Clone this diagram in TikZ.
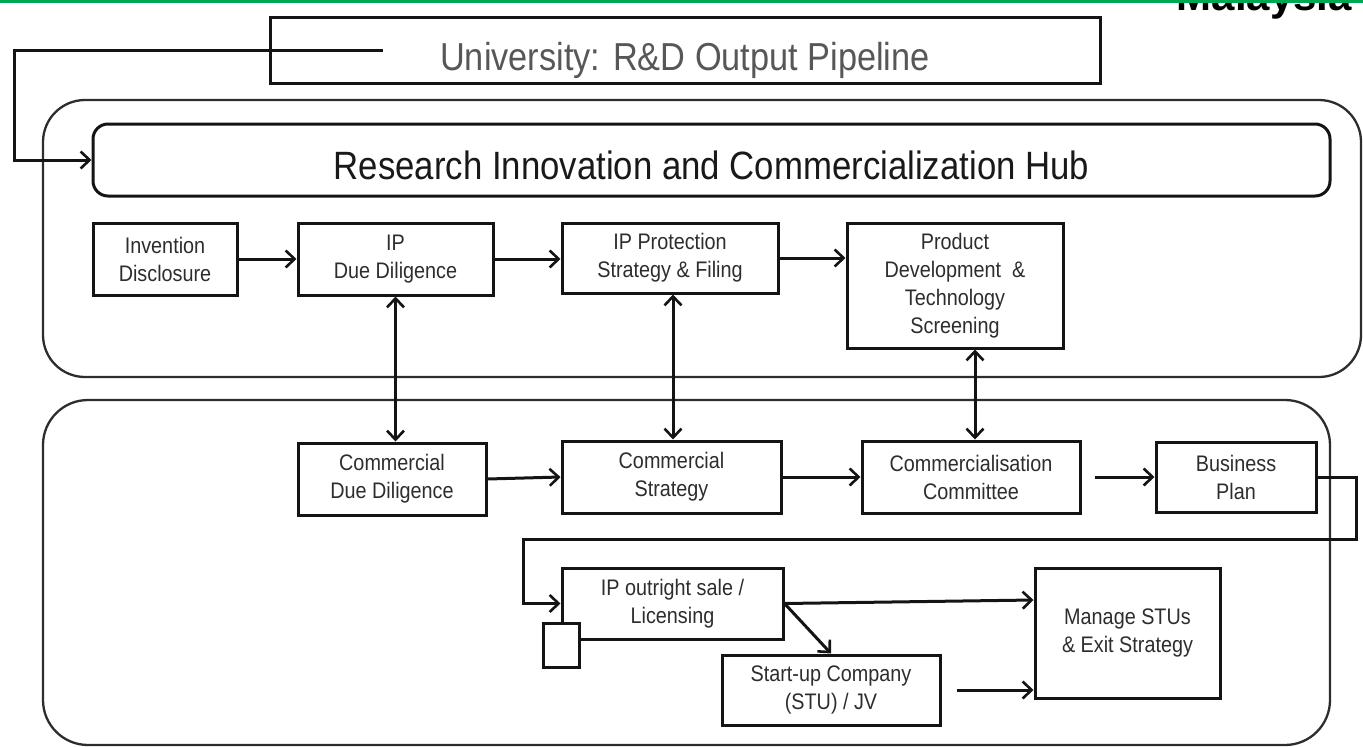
\documentclass[tikz,border=0pt]{standalone}
\usepackage{fontspec}
\setmainfont{Liberation Sans}
\newfontfamily\narrowf{Liberation Sans}[FakeStretch=0.88]
\usetikzlibrary{arrows.meta}
\definecolor{grn}{RGB}{0,166,81}
\definecolor{txt}{RGB}{45,45,45}
\definecolor{edge}{RGB}{20,20,20}
\definecolor{outer}{RGB}{45,45,45}
\tikzset{
  boxst/.style={draw=edge, line width=3pt, rectangle, inner sep=0pt, align=center,
    text=txt, font=\narrowf\fontsize{22.5}{28}\selectfont},
  outerst/.style={draw=outer, line width=2.3pt},
  conn/.style={draw=edge, line width=3pt},
  arr/.style={conn, -{Straight Barb[length=9pt,width=17pt,line width=2.6pt]}},
  darr/.style={conn, {Straight Barb[length=9pt,width=17pt,line width=2.6pt]}-{Straight Barb[length=9pt,width=17pt,line width=2.6pt]}},
}
\begin{document}
\begin{tikzpicture}[x=1pt,y=-1pt]
\useasboundingbox (0,0) rectangle (1363,747);
\clip (0,0) rectangle (1363,747);
% header
\node[anchor=base east, inner sep=0pt, font=\bfseries\fontsize{42}{46}\selectfont] (mal) at (1352,10) {Malaysia};
\fill[grn] (0,0) rectangle (1363,2.6);
% outer rounded panels
\draw[outerst, rounded corners=42pt] (43,100) rectangle (1361,377);
\draw[outerst, rounded corners=45pt] (43,400) rectangle (1330,745);
% title box
\node[boxst, minimum width=830pt, minimum height=66pt, text height=40pt, text depth=0pt, text=black!66, font=\narrowf\fontsize{39}{44}\selectfont] (title) at (685,50) {University: R\&D Output Pipeline};
% hub
\node[boxst, rounded corners=15pt, minimum width=1237pt, minimum height=72pt, text height=38pt, text depth=0pt, text=black!90, font=\narrowf\fontsize{39.5}{44}\selectfont] (hub) at (711.5,160) {Research Innovation and Commercialization Hub};
% row 1
\node[boxst, minimum width=144pt, minimum height=72pt] (inv) at (165,259) {Invention\\Disclosure};
\node[boxst, minimum width=195pt, minimum height=72pt] (ipdd) at (395.5,259) {IP\\Due Diligence};
\node[boxst, minimum width=216pt, minimum height=70pt] (ipp) at (670,258) {IP Protection\\Strategy \& Filing};
\node[boxst, minimum width=216pt, minimum height=125pt] (pd) at (955,285.5) {Product\\Development \ \&\\Technology\\Screening};
% row 2
\node[boxst, minimum width=188pt, minimum height=72pt] (cdd) at (392,479) {Commercial\\Due Diligence};
\node[boxst, minimum width=219pt, minimum height=72pt] (cs) at (671.5,477) {Commercial\\Strategy};
\node[boxst, minimum width=218pt, minimum height=72pt] (cc) at (971,477) {Commercialisation\\Committee};
\node[boxst, minimum width=160pt, minimum height=70pt] (bp) at (1236,477) {Business\\Plan};
% row 3
\node[boxst, minimum width=221pt, minimum height=71pt] (ipo) at (672.5,603.5) {IP outright sale /\\Licensing};
\node[boxst, fill=white, minimum width=36pt, minimum height=44pt] (sq) at (561,645) {};
\node[boxst, minimum width=218pt, minimum height=70pt] (stu) at (831,690) {Start-up Company\\(STU) / JV};
\node[boxst, minimum width=185pt, minimum height=130pt] (man) at (1127.5,633) {Manage STUs\\\& Exit Strategy};
% connectors
\coordinate (ts) at (383,50);
\coordinate (tl) at (14,50);
\draw[arr] (ts) -- (tl) |- (hub.west);
\draw[arr] (inv.east) -- (ipdd.west);
\draw[arr] (ipdd.east) -- (ipdd.east -| ipp.west);
\draw[arr] (ipp.east) -- (ipp.east -| pd.west);
\draw[darr] (ipdd.south) -- (ipdd.south |- cdd.north);
\draw[darr] ([xshift=3pt]ipp.south) -- ([xshift=3pt]ipp.south |- cs.north);
\draw[darr] ([xshift=20pt]pd.south) -- ([xshift=20pt]pd.south |- cc.north);
\draw[arr] (cdd.east) -- (cs.west);
\draw[arr] (cs.east) -- (cc.west);
\draw[arr] ([xshift=13pt]cc.east) -- (bp.west);
\coordinate (r1) at (1356,539);
\coordinate (r2) at (523,539);
\draw[arr] (bp.east) -| (r1) -- (r2) |- (ipo.west);
\draw[arr] (ipo.east) -- ([yshift=33pt]man.west);
\draw[arr] (ipo.east) -- (stu.north);
\draw[arr] ([xshift=15pt]stu.east) -- (man.west |- stu.east);
\end{tikzpicture}
\end{document}
